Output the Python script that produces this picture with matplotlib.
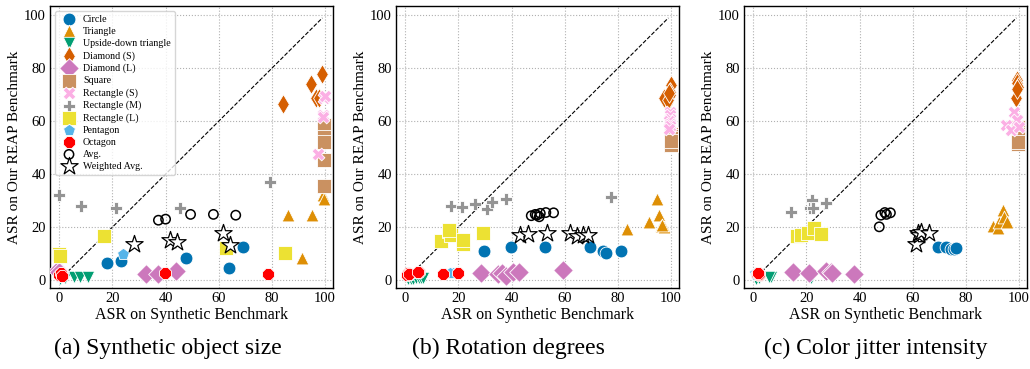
import matplotlib
matplotlib.use("Agg")
import matplotlib.pyplot as plt

plt.rcParams['font.family'] = ['Liberation Serif', 'DejaVu Serif']

# Datos: una lista por panel (a, b, c) para cada forma
labels = ["Circle", "Triangle", "Upside-down triangle", "Diamond (S)", "Diamond (L)",
          "Square", "Rectangle (S)", "Rectangle (M)", "Rectangle (L)", "Pentagon",
          "Octagon", "Avg.", "Weighted Avg."]
captions = ["(a) Synthetic object size", "(b) Rotation degrees", "(c) Color jitter intensity"]

circle_x = [[17.8, 23.1, 47.6, 64.0, 69.1],
            [29.7, 39.8, 52.6, 69.5, 74.3, 75.4, 81.1],
            [69.4, 72.6, 74.5, 75.5, 76.4]]
circle_y = [[6.3, 7.3, 8.2, 4.4, 12.6],
            [11.1, 12.3, 12.3, 12.6, 11.1, 10.1, 11.1],
            [12.6, 12.3, 11.9, 11.9, 12.1]]

triangle_x = [[86.2, 95.0, 91.5, 99.1, 99.5],
              [83.3, 94.6, 95.5, 91.7, 96.1, 97.5, 96.7],
              [90.1, 92.0, 92.3, 93.8, 94.5, 95.5]]
triangle_y = [[24.5, 24.5, 8.2, 32.0, 30.5],
              [19.1, 30.8, 24.5, 22.0, 20.4, 19.9, 20.8],
              [20.4, 19.5, 22.0, 26.4, 23.9, 22.0]]

updown_x = [[0.3, 2.3, 5.4, 7.9, 10.8],
            [1.0, 2.0, 3.0, 4.0, 5.0, 6.0, 6.8],
            [1.0, 6.5, 21.6, 2.0, 6.0]]
updown_y = [[0.5, 0.8, 1.2, 1.2, 1.2],
            [0.3, 0.5, 0.5, 0.6, 0.8, 0.8, 0.6],
            [0.5, 1.3, 0.6, 0.8, 1.0]]

diamond_s_x = [[84.3, 94.6, 98.9, 96.6, 97.9],
               [100.0, 99.8, 99.6, 98.6, 97.5, 99.0, 99.3],
               [99.1, 99.4, 99.5, 98.9, 99.2]]
diamond_s_y = [[66.4, 74.0, 77.7, 68.9, 68.6],
               [73.6, 71.0, 69.8, 66.9, 68.6, 68.0, 70.5],
               [75.7, 74.5, 73.0, 68.6, 72.0]]

diamond_l_x = [[-0.5, 0.0, 32.5, 37.0, 44.0],
               [28.6, 34.8, 36.5, 38.0, 40.7, 42.9, 59.5],
               [15.0, 21.0, 27.3, 29.2, 29.8, 38.0]]
diamond_l_y = [[3.8, 3.0, 2.3, 2.3, 3.5],
               [2.5, 2.3, 2.5, 1.6, 3.1, 3.1, 3.8],
               [3.1, 2.8, 3.5, 3.0, 2.5, 2.3]]

square_x = [[99.7, 99.7, 99.7, 99.7, 99.7],
            [100.0, 100.0, 100.0, 100.0, 100.0, 100.0, 100.0],
            [99.8, 99.8, 99.8, 99.8, 99.8]]
square_y = [[58.5, 54.0, 52.0, 45.3, 35.5],
            [55.0, 54.5, 53.5, 51.5, 51.0, 50.9, 52.5],
            [57.8, 55.3, 53.5, 51.2, 52.0]]

rect_s_x = [[99.7, 99.4, 97.5, 99.9, 99.2],
            [99.8, 99.5, 99.8, 99.4, 99.8, 99.6, 99.3],
            [98.2, 99.2, 95.1, 97.0, 100.0]]
rect_s_y = [[68.9, 62.3, 47.5, 69.5, 61.5],
            [63.5, 62.5, 61.0, 60.0, 59.1, 58.0, 57.2],
            [63.5, 60.4, 58.5, 56.6, 57.8]]

rect_m_x = [[0.0, 8.2, 21.2, 45.4, 79.3],
            [17.3, 21.3, 26.3, 30.9, 32.6, 38.0, 77.4],
            [14.1, 21.3, 22.0, 22.3, 27.3]]
rect_m_y = [[32.3, 27.9, 27.4, 27.4, 37.1],
            [28.0, 27.7, 28.9, 27.0, 29.3, 30.8, 31.2],
            [25.8, 27.4, 30.2, 27.4, 29.2]]

rect_l_x = [[0.0, 16.9, 62.7, 84.9, 0.2],
            [13.4, 16.3, 17.3, 21.9, 21.7, 29.2, 16.6],
            [16.6, 17.9, 20.4, 22.9, 25.4]]
rect_l_y = [[9.8, 16.7, 12.0, 10.1, 9.2],
            [14.7, 18.5, 17.0, 13.8, 15.1, 17.9, 19.0],
            [16.6, 17.0, 17.6, 19.5, 17.4]]

pentagon_x = [[23.8, 0.5, 0.8, 1.0, 0.3],
              [17.8, 0.5, 1.0, 1.5, 4.5, 5.0, 16.8],
              [1.0, 1.5, 2.0, 0.5, 1.2]]
pentagon_y = [[9.8, 1.5, 2.0, 2.5, 1.0],
              [2.8, 2.0, 2.5, 2.0, 2.8, 3.0, 2.6],
              [2.5, 2.0, 2.3, 2.8, 1.8]]

octagon_x = [[0.0, 0.6, 39.8, 78.7, 1.0],
             [1.0, 5.3, 14.2, 19.7, 0.5, 1.5, 4.8],
             [1.5, 2.0, 1.8, 2.2, 1.6]]
octagon_y = [[1.9, 2.8, 2.5, 2.3, 1.5],
             [2.5, 3.1, 2.3, 2.8, 2.0, 2.2, 3.0],
             [2.3, 2.0, 2.5, 2.2, 2.6]]

avg_x = [[37.3, 40.0, 49.4, 58.0, 66.4],
         [47.4, 48.9, 49.5, 50.4, 50.8, 52.9, 55.8],
         [47.4, 48.0, 49.5, 50.1, 51.6]]
avg_y = [[22.6, 23.0, 24.8, 24.8, 24.5],
         [24.3, 24.8, 24.5, 23.9, 25.2, 25.5, 25.4],
         [20.1, 24.5, 25.5, 24.8, 25.4]]

wavg_x = [[28.2, 41.7, 44.4, 61.5, 64.2],
          [43.2, 46.0, 53.3, 61.8, 64.5, 66.8, 68.9],
          [61.3, 61.9, 62.5, 63.1, 66.0]]
wavg_y = [[13.5, 15.3, 14.5, 17.9, 13.2],
          [17.0, 17.4, 17.6, 17.9, 16.6, 17.0, 17.0],
          [13.8, 17.6, 17.0, 18.2, 17.9]]

series_x = [circle_x, triangle_x, updown_x, diamond_s_x, diamond_l_x, square_x,
            rect_s_x, rect_m_x, rect_l_x, pentagon_x, octagon_x]
series_y = [circle_y, triangle_y, updown_y, diamond_s_y, diamond_l_y, square_y,
            rect_s_y, rect_m_y, rect_l_y, pentagon_y, octagon_y]

colores = ["#0173b2", "#de8f05", "#029e73", "#d55e00", "#cc78bc", "#ca9161",
           "#fbafe4", "#949494", "#ece133", "#56b4e9", "#ff0000"]
marcadores = ["o", "^", "v", "d", "D", "s", "X", "P", "s", "p", "8"]
tamanios = [85, 85, 80, 100, 100, 100, 85, 85, 100, 80, 85]

fig = plt.figure(figsize=(10.3, 3.69), dpi=100)
lefts = [50, 396, 744]
centros_caption = [168, 508, 876]

for i in range(3):
    ax = fig.add_axes([lefts[i] / 1030, 81 / 369, 283 / 1030, 282 / 369])
    ax.plot([0, 99], [0, 99], color="black", linestyle="--", linewidth=0.8, zorder=1)
    for k in range(len(series_x)):
        ax.scatter(series_x[k][i], series_y[k][i], s=tamanios[k], marker=marcadores[k],
                   color=colores[k], edgecolors="white", linewidths=0.6,
                   label=labels[k], zorder=3)
    ax.scatter(avg_x[i], avg_y[i], s=45, marker="o", facecolors="none",
               edgecolors="black", linewidths=1.1, label=labels[11], zorder=4)
    ax.scatter(wavg_x[i], wavg_y[i], s=170, marker="*", facecolors="white",
               edgecolors="black", linewidths=0.9, label=labels[12], zorder=4)

    ax.set_xlim(-3.5, 103)
    ax.set_ylim(-3, 103.5)
    ax.set_xticks([0, 20, 40, 60, 80, 100])
    ax.set_yticks([0, 20, 40, 60, 80, 100])
    ax.grid(True, linestyle=":", color="#b0b0b0", linewidth=0.8)
    ax.set_axisbelow(True)
    ax.tick_params(length=0, labelsize=10.5, pad=3)
    for sp in ax.spines.values():
        sp.set_color("black")
        sp.set_linewidth(1.0)
    ax.set_xlabel("ASR on Synthetic Benchmark", fontsize=11.5, labelpad=1)
    ax.set_ylabel("ASR on Our REAP Benchmark", fontsize=11, labelpad=2)
    fig.text(centros_caption[i] / 1030, 21 / 369, captions[i], fontsize=17,
             ha="center", va="center")
    if i == 0:
        ax.legend(loc="upper left", fontsize=7.2, labelspacing=0.3, handletextpad=0.4,
                  borderpad=0.4, framealpha=0.8, edgecolor="#cccccc")

fig.savefig("out.png", dpi=100)
